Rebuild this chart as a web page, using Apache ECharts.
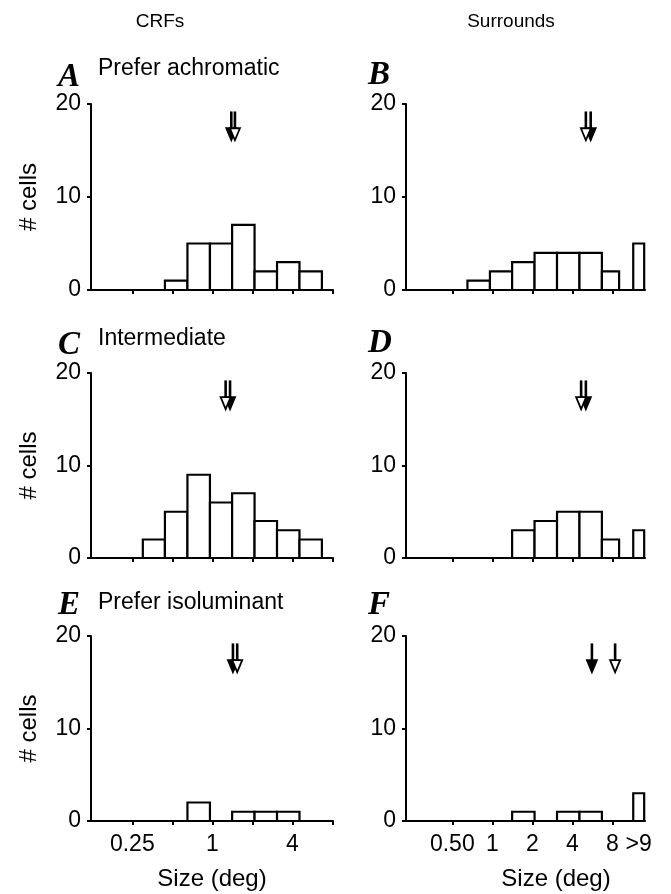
<!DOCTYPE html>
<html>
<head>
<meta charset="utf-8">
<title>CRF and surround sizes</title>
<script src="https://cdn.jsdelivr.net/npm/echarts@6/dist/echarts.min.js"></script>
<style>
  html, body { margin: 0; padding: 0; background: #fff; }
  #chart { width: 671px; height: 894px; }
</style>
</head>
<body>
<div id="chart"></div>
<script>
// bin edges in degrees (bins are log spaced)
const crfBinEdges = [0.30, 0.44, 0.65, 0.96, 1.41, 2.08, 3.07, 4.53, 6.68];
const surroundBinEdges = [0.65, 0.96, 1.41, 2.08, 3.07, 4.53, 6.68, 9];
const overflowBin = [11.5, 13.9]; // the ">9" column

// cell counts per bin
const crfAchromatic = [0, 1, 5, 5, 7, 2, 3, 2];
const crfIntermediate = [2, 5, 9, 6, 7, 4, 3, 2];
const crfIsoluminant = [0, 0, 2, 0, 1, 1, 1, 0];
const surroundAchromatic = [1, 2, 3, 4, 4, 4, 2];
const surroundIntermediate = [0, 0, 3, 4, 5, 5, 2];
const surroundIsoluminant = [0, 0, 1, 0, 1, 1, 0];
const surroundOver9 = [5, 3, 3];

// median arrows (deg), panels A..F
const arrowsFilled = [1.39, 5.50, 1.36, 5.06, 1.43, 5.62];
const arrowsOpen = [1.48, 5.06, 1.26, 4.66, 1.54, 8.40];

// ticks and labels
const crfTickValues = [0.25, 0.5, 1, 2, 4, 8];
const crfLabelValues = [0.25, 1, 4];
const crfLabels = ['0.25', '1', '4'];
const surroundTickValues = [0.5, 1, 2, 4, 8];
const surroundLabels = ['0.50', '1', '2', '4', '8', '>9'];

const panelLetters = ['A', 'B', 'C', 'D', 'E', 'F'];
const rowTitles = ['Prefer achromatic', 'Intermediate', 'Prefer isoluminant'];

const SANS = '"Liberation Sans", Arial, Helvetica, sans-serif';
const SERIF = '"Liberation Serif", "Times New Roman", serif';
const ARROW_TOP = 19.2;
const ARROW_TIP = 16.1;

const chart = echarts.init(document.getElementById('chart'), null, { renderer: 'canvas' });

const rowTop = [104, 373, 636];
const rowHeight = [186, 185, 185];
const colLeft = [91, 406];
const colWidth = [242, 239];
const colRange = [[-3.0325, 3.0175], [-2.1575, 3.8175]];

const crfCounts = [crfAchromatic, crfIntermediate, crfIsoluminant];
const surroundCounts = [surroundAchromatic, surroundIntermediate, surroundIsoluminant];

function binData(edges, counts) {
  const out = [];
  counts.forEach((c, i) => {
    if (c > 0) out.push([Math.log2(edges[i]), Math.log2(edges[i + 1]), c]);
  });
  return out;
}

function nearestLabel(v, values, labels) {
  let best = 0;
  values.forEach((t, i) => {
    if (Math.abs(Math.log2(t) - v) < Math.abs(Math.log2(values[best]) - v)) best = i;
  });
  return labels[best];
}

function renderBar(params, api) {
  const base = api.coord([api.value(0), 0]);
  const top = api.coord([api.value(1), api.value(2)]);
  return {
    type: 'rect',
    shape: { x: base[0], y: top[1], width: top[0] - base[0], height: base[1] - top[1] },
    style: { fill: '#fff', stroke: '#000', lineWidth: 2.2 }
  };
}

function renderArrow(params, api) {
  const filled = api.value(1) === 1;
  const top = api.coord([api.value(0), ARROW_TOP]);
  const tip = api.coord([api.value(0), ARROW_TIP]);
  const x = tip[0];
  const headH = 12;
  const headW = 10;
  return {
    type: 'group',
    children: [
      {
        type: 'line',
        shape: { x1: x, y1: top[1], x2: x, y2: tip[1] - headH + 1 },
        style: { stroke: '#000', lineWidth: 2.6 }
      },
      {
        type: 'polygon',
        shape: { points: [[x - headW / 2, tip[1] - headH], [x + headW / 2, tip[1] - headH], [x, tip[1]]] },
        style: { fill: filled ? '#000' : '#fff', stroke: '#000', lineWidth: 1.8 }
      }
    ]
  };
}

const grids = [];
const xAxes = [];
const yAxes = [];
const series = [];

for (let row = 0; row < 3; row++) {
  for (let col = 0; col < 2; col++) {
    const idx = row * 2 + col;
    const bottomRow = row === 2;
    grids.push({ left: colLeft[col], top: rowTop[row], width: colWidth[col], height: rowHeight[row] });

    const overflowMid = Math.sqrt(overflowBin[0] * overflowBin[1]);
    const labelDeg = col === 0 ? crfLabelValues : surroundTickValues.concat([overflowMid]);
    const labelText = col === 0 ? crfLabels : surroundLabels;
    const tickDeg = col === 0 ? crfTickValues : surroundTickValues;

    xAxes.push({
      type: 'value',
      gridIndex: idx,
      min: colRange[col][0],
      max: colRange[col][1],
      splitLine: { show: false },
      axisLine: { onZero: false, lineStyle: { color: '#000', width: 2 } },
      axisTick: { length: 4, lineStyle: { color: '#000', width: 2 }, customValues: tickDeg.map(Math.log2) },
      axisLabel: {
        show: bottomRow,
        customValues: labelDeg.map(Math.log2),
        margin: 12,
        color: '#000',
        fontFamily: SANS,
        fontSize: 23,
        formatter: (v) => nearestLabel(v, labelDeg, labelText)
      }
    });

    yAxes.push({
      type: 'value',
      gridIndex: idx,
      min: 0,
      max: 20,
      interval: 10,
      name: col === 0 ? '# cells' : '',
      nameLocation: 'middle',
      nameGap: 50,
      nameTextStyle: { color: '#000', fontFamily: SANS, fontSize: 24 },
      splitLine: { show: false },
      axisLine: { show: true, onZero: false, lineStyle: { color: '#000', width: 2 } },
      axisTick: { show: true, length: 4, lineStyle: { color: '#000', width: 2 } },
      axisLabel: { margin: 10, color: '#000', fontFamily: SANS, fontSize: 23 }
    });

    let bars;
    if (col === 0) {
      bars = binData(crfBinEdges, crfCounts[row]);
    } else {
      bars = binData(surroundBinEdges, surroundCounts[row]);
      bars.push([Math.log2(overflowBin[0]), Math.log2(overflowBin[1]), surroundOver9[row]]);
    }
    series.push({
      type: 'custom',
      xAxisIndex: idx,
      yAxisIndex: idx,
      renderItem: renderBar,
      encode: { x: [0, 1], y: 2 },
      data: bars
    });
    series.push({
      type: 'custom',
      xAxisIndex: idx,
      yAxisIndex: idx,
      renderItem: renderArrow,
      encode: { x: 0 },
      data: [[Math.log2(arrowsFilled[idx]), 1], [Math.log2(arrowsOpen[idx]), 0]],
      z: 5
    });
  }
}

const letterY = [77, 345, 605];
const rightLetterY = [75, 343, 605];
const titleY = [69, 339, 603];
const graphics = [
  { type: 'text', x: 160, y: 22, style: { text: 'CRFs', font: '19px ' + SANS, fill: '#000', textAlign: 'center', textVerticalAlign: 'middle' } },
  { type: 'text', x: 511, y: 22, style: { text: 'Surrounds', font: '19px ' + SANS, fill: '#000', textAlign: 'center', textVerticalAlign: 'middle' } },
  { type: 'text', x: 212, y: 879, style: { text: 'Size (deg)', font: '24px ' + SANS, fill: '#000', textAlign: 'center', textVerticalAlign: 'middle' } },
  { type: 'text', x: 556, y: 879, style: { text: 'Size (deg)', font: '24px ' + SANS, fill: '#000', textAlign: 'center', textVerticalAlign: 'middle' } }
];
for (let row = 0; row < 3; row++) {
  graphics.push({ type: 'text', x: 58, y: letterY[row], style: { text: panelLetters[row * 2], font: 'italic bold 33px ' + SERIF, fill: '#000', textVerticalAlign: 'middle' } });
  graphics.push({ type: 'text', x: 368, y: rightLetterY[row], style: { text: panelLetters[row * 2 + 1], font: 'italic bold 33px ' + SERIF, fill: '#000', textVerticalAlign: 'middle' } });
  graphics.push({ type: 'text', x: 98, y: titleY[row], style: { text: rowTitles[row], font: '23px ' + SANS, fill: '#000', textVerticalAlign: 'middle' } });
}

chart.setOption({
  animation: false,
  backgroundColor: '#fff',
  grid: grids,
  xAxis: xAxes,
  yAxis: yAxes,
  series: series,
  graphic: graphics
});

window.addEventListener('resize', () => chart.resize());
</script>
</body>
</html>
